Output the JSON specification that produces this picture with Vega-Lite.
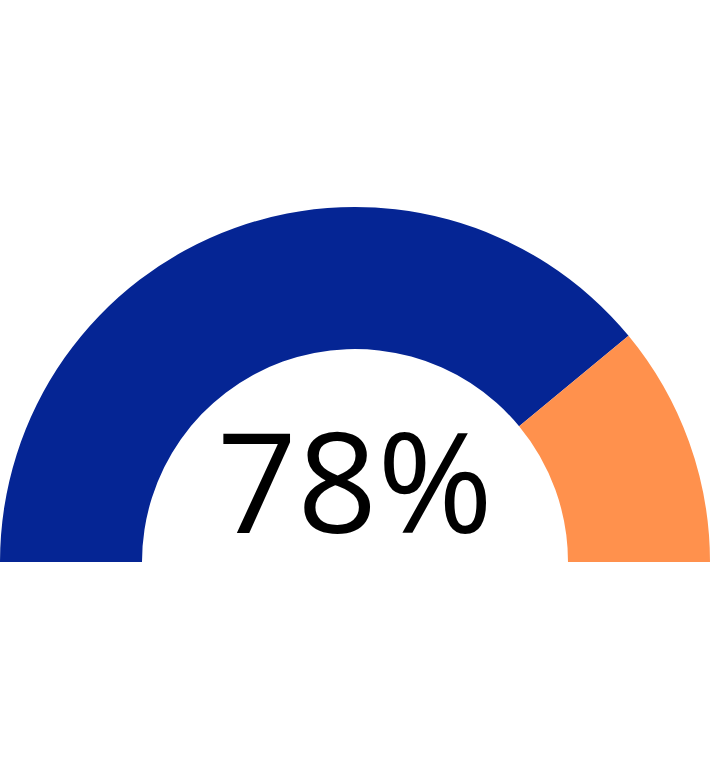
{
  "$schema": "https://vega.github.io/schema/vega-lite/v6.json",
  "width": 710,
  "height": 416,
  "autosize": {"type": "none"},
  "padding": {"top": 354, "left": 0, "right": 0, "bottom": 0},
  "config": {"view": {"stroke": null}},
  "layer": [
    {
      "data": {
        "values": [
          {"part": "done", "value": 78, "rank": 1},
          {"part": "rest", "value": 22, "rank": 2}
        ]
      },
      "mark": {"type": "arc", "outerRadius": 355, "innerRadius": 213},
      "encoding": {
        "theta": {
          "field": "value",
          "type": "quantitative",
          "stack": true,
          "scale": {"range": [-1.5707963, 1.5707963]}
        },
        "order": {"field": "rank", "type": "quantitative"},
        "color": {
          "field": "part",
          "type": "nominal",
          "scale": {"domain": ["done", "rest"], "range": ["#052594", "#FF914D"]},
          "legend": null
        }
      }
    },
    {
      "data": {"values": [{"label": "78%"}]},
      "mark": {
        "type": "text",
        "font": "Open Sans",
        "fontSize": 140,
        "baseline": "alphabetic",
        "align": "center",
        "dy": -29,
        "color": "#000000"
      },
      "encoding": {"text": {"field": "label", "type": "nominal"}}
    }
  ]
}
